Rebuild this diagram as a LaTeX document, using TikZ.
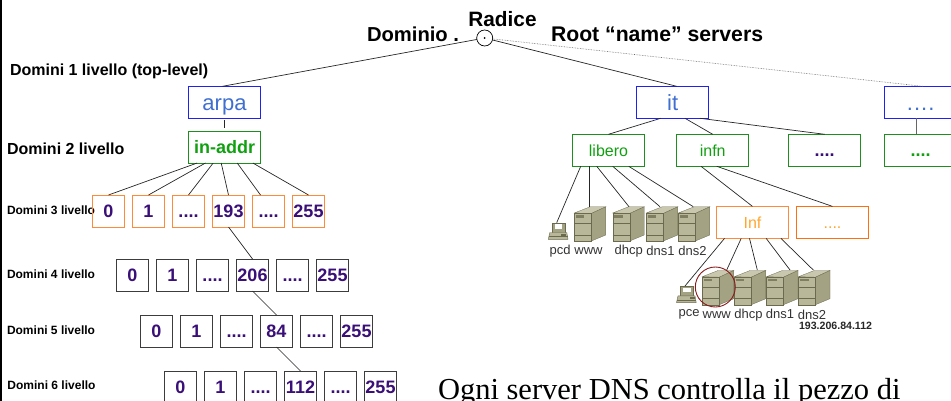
\documentclass[tikz,border=0pt]{standalone}
\usepackage{fontspec}
\setmainfont{Liberation Sans}
\newfontfamily\serifbody{Liberation Serif}
\usetikzlibrary{calc}
\definecolor{bluebd}{HTML}{2020F0}
\definecolor{bluetx}{HTML}{3F6FD0}
\definecolor{greenbd}{HTML}{1E8F1E}
\definecolor{greentx}{HTML}{10A010}
\definecolor{orangebd}{HTML}{FF8A3A}
\definecolor{orangebe}{HTML}{FF6F10}
\definecolor{orangetx}{HTML}{FFA62E}
\definecolor{purpletx}{HTML}{3A0F78}
\definecolor{greybd}{HTML}{3C3C3C}
\definecolor{srvfront}{HTML}{B8B79A}
\definecolor{srvside}{HTML}{A3A283}
\definecolor{srvtop}{HTML}{C9C8AE}
\definecolor{srvdark}{HTML}{6B6A4E}
\definecolor{srvslot}{HTML}{7F7E60}
\definecolor{ringred}{HTML}{8B1A1A}
\newcommand{\fsz}[1]{\fontsize{#1}{#1}\selectfont}
\newcommand{\fourdots}{.{}.{}.{}.}
\tikzset{
  x=1pt,y=-1pt,
  base box/.style={draw,line width=0.8pt,inner sep=0,outer sep=0,minimum height=32pt,text depth=0pt},
  bluebox/.style={base box,draw=bluebd,text=bluetx,minimum width=72pt,font=\fsz{22},text height=16pt},
  greenbox/.style={base box,draw=greenbd,text=greentx,minimum width=72pt,font=\fsz{16},text height=11.6pt},
  greenbold/.style={greenbox,font=\bfseries\fsz{18},text height=13pt},
  orangebox/.style={base box,draw=orangebe,text=orangetx,minimum width=72pt,font=\fsz{16},text height=11.6pt},
  numorange/.style={base box,draw=orangebd,text=purpletx,minimum width=32pt,font=\bfseries\fsz{18},text height=13pt},
  numgrey/.style={numorange,draw=greybd},
  levellabel/.style={anchor=west,inner sep=0,outer sep=0,font=\bfseries\fsz{12}},
  biglevel/.style={levellabel,font=\bfseries\fsz{16}},
  headlabel/.style={inner sep=0,outer sep=0,font=\bfseries\fsz{20.8}},
  hostlabel/.style={inner sep=0,outer sep=0,text=black!80,font=\fsz{13}},
  conn/.style={line width=0.7pt,black!85},
  pics/srv/.style={code={
    \fill[srvtop,draw=srvdark,line width=0.3pt] (0,0)--(17,0.5)--(31.5,-6.2)--(15.8,-6.2)--cycle;
    \fill[srvside,draw=srvdark,line width=0.3pt] (17,0.5)--(31.5,-6.2)--(31.5,22)--(17,28)--cycle;
    \fill[srvfront,draw=srvdark,line width=0.3pt] (0,0) rectangle (17,28);
    \fill[srvslot] (1.3,2) rectangle (10,4.6);
    \draw[srvdark,line width=0.6pt] (0,10.5)--(17,10.5);
    \draw[srvdark,line width=0.6pt] (0,22)--(17,22);
  }},
  pics/pc/.style={code={
    \fill[srvside,draw=srvdark,line width=0.4pt] (3.4,0) rectangle (16.7,10);
    \fill[white] (6.5,1.6) rectangle (14,6.2);
    \fill[srvfront,draw=srvdark,line width=0.4pt] (1.5,9.8)--(18.5,9.8)--(19.7,16.6)--(0,16.6)--cycle;
    \draw[srvdark,line width=0.8pt] (0.5,14)--(19.2,14);
    \fill[srvdark] (13,11) rectangle (18,13);
  }},
}
\begin{document}
\begin{tikzpicture}
\useasboundingbox (0,0) rectangle (951,401);
\clip (0,0) rectangle (951,401);
\fill[black] (0,0) rectangle (2.2,401);

% root
\node[circle,draw=black,line width=0.7pt,fill=white,minimum size=16pt,inner sep=0,outer sep=0] (root) at (484.7,38) {};
\fill[black] (root.center) circle (1pt);
\node[headlabel] (radice) at (502.5,19.5) {Radice};
\node[headlabel,anchor=west,font=\bfseries\fsz{20.2}] (dominio) at (367,34.5) {Dominio .};
\node[headlabel,anchor=west,font=\bfseries\fsz{21.2}] (rootsrv) at (551,34) {Root “name” servers};

% level labels
\node[biglevel] (l1) at (10,71) {Domini 1 livello (top-level)};
\node[biglevel] (l2) at (7,148.5) {Domini 2 livello};
\node[levellabel] (l3) at (7,210) {Domini 3 livello};
\node[levellabel] (l4) at (7,274) {Domini 4 livello};
\node[levellabel] (l5) at (7,330) {Domini 5 livello};
\node[levellabel] (l6) at (7.5,385) {Domini 6 livello};

% left tree
\node[bluebox] (arpa) at (224.5,102.3) {arpa};
\node[greenbold] (inaddr) at (224.5,147) {in-addr};

\foreach \n/\t/\x in {0/0/108.5,1/1/148.5,2/\fourdots/188.5,3/193/228.5,4/\fourdots/268.5,5/255/308.5}
  \node[numorange] (a\n) at (\x,211) {\t};
\foreach \n/\t/\x in {0/0/132.5,1/1/172.5,2/\fourdots/212.5,3/206/252.5,4/\fourdots/292.5,5/255/332.5}
  \node[numgrey] (b\n) at (\x,275) {\t};
\foreach \n/\t/\x in {0/0/156.5,1/1/196.5,2/\fourdots/236.5,3/84/276.5,4/\fourdots/316.5,5/255/356.5}
  \node[numgrey] (c\n) at (\x,331) {\t};
\foreach \n/\t/\x in {0/0/180.5,1/1/220.5,2/\fourdots/260.5,3/112/300.5,4/\fourdots/340.5,5/255/380.5}
  \node[numgrey] (d\n) at (\x,387) {\t};

% right tree
\node[bluebox] (it) at (672.7,102.3) {it};
\node[bluebox] (dots1) at (920.7,102.3) {.\kern1pt.\kern1pt.\kern1pt.};
\node[greenbox] (libero) at (608.5,150.3) {libero};
\node[greenbox] (infn) at (712.7,150.3) {infn};
\node[greenbox,text=purpletx,font=\bfseries\fsz{18},text height=13pt] (dots2) at (824.7,150.3) {\fourdots};
\node[greenbold] (dots3) at (920.7,150.3) {\fourdots};
\node[orangebox,draw=orangebd] (inf) at (752.5,222.4) {Inf};
\node[orangebox] (dots4) at (832.5,222.4) {\fourdots};

% servers
\pic at (574.3,213) {srv};
\coordinate (swww) at (589,206.7);
\pic at (612.7,213) {srv};
\coordinate (sdhcp) at (629,206.7);
\pic at (646.3,213) {srv};
\coordinate (sdns1) at (660,206.7);
\pic at (678.3,213) {srv};
\coordinate (sdns2) at (693.3,206.7);
\pic at (548.3,222.7) {pc};
\coordinate (spc) at (556.7,222.7);

\pic at (702.3,276.7) {srv};
\coordinate (twww) at (726.7,270);
\pic at (734.3,276.7) {srv};
\coordinate (tdhcp) at (757.3,270);
\pic at (766.5,276.7) {srv};
\coordinate (tdns1) at (790,270);
\pic at (798.5,276.7) {srv};
\coordinate (tdns2) at (813.3,270);
\pic at (676.5,286) {pc};
\coordinate (tpc) at (685,286);

\node[circle,draw=ringred,line width=0.9pt,minimum size=40pt,inner sep=0,outer sep=0] (ring) at (715.3,287) {};

% host labels
\node[hostlabel] (h1) at (560,251) {pcd};
\node[hostlabel] (h2) at (588.5,251) {www};
\node[hostlabel] (h3) at (628.7,251) {dhcp};
\node[hostlabel] (h4) at (660.5,251) {dns1};
\node[hostlabel] (h5) at (692.5,251) {dns2};
\node[hostlabel] (h6) at (689,314) {pce};
\node[hostlabel] (h7) at (716.7,315) {www};
\node[hostlabel] (h8) at (748.5,315) {dhcp};
\node[hostlabel] (h9) at (780,314) {dns1};
\node[hostlabel] (h10) at (812,315) {dns2};
\node[anchor=west,inner sep=0,outer sep=0,font=\bfseries\fsz{10.6},text=black!85] (ip) at (799,326) {193.206.84.112};

% body text
\node[anchor=base west,inner sep=0,outer sep=0,font=\serifbody\fsz{30.5}] (body) at (438,399.5) {Ogni server DNS controlla il pezzo di};

% connectors
\draw[conn] (root) -- ([xshift=34pt]arpa.north west);
\draw[conn] (root) -- ([xshift=40pt]it.north west);
\draw[line width=0.6pt,black!60,densely dotted] (root) -- ([xshift=38pt]dots1.north west);
\draw[conn,shorten <=2pt,shorten >=2.5pt] (arpa.south) -- (inaddr.north);
\draw[conn] ([xshift=8.7pt]inaddr.south west) -- (a0.north);
\draw[conn] ([xshift=17pt]inaddr.south west) -- (a1.north);
\draw[conn] ([xshift=24.7pt]inaddr.south west) -- (a2.north);
\draw[conn] ([xshift=32.7pt]inaddr.south west) -- (a3.north);
\draw[conn] ([xshift=48.7pt]inaddr.south west) -- ([xshift=-8pt]a4.north);
\draw[conn] ([xshift=64.3pt]inaddr.south west) -- (a5.north);
\draw[conn] (a3.south) -- (b3.north);
\draw[conn] (b3.south) -- (c3.north);
\draw[conn] (c3.south) -- (d3.north);
\draw[conn] ([xshift=24pt]it.south west) -- (libero.north);
\draw[conn] ([xshift=48.3pt]it.south west) -- (infn.north);
\draw[conn] ([xshift=63.3pt]it.south west) -- (dots2.north);
\draw[line width=1pt,black!60] ([xshift=32pt]dots1.south west) -- ([xshift=32pt]dots3.north west);
\draw[conn] ([xshift=8.2pt]libero.south west) -- (spc);
\draw[conn] ([xshift=16.5pt]libero.south west) -- (swww);
\draw[conn] ([xshift=24.2pt]libero.south west) -- (sdhcp);
\draw[conn] ([xshift=40.2pt]libero.south west) -- (sdns1);
\draw[conn] ([xshift=56.2pt]libero.south west) -- (sdns2);
\draw[conn] ([xshift=24.3pt]infn.south west) -- (inf.north);
\draw[conn] ([xshift=40pt]infn.south west) -- (dots4.north);
\draw[conn] ([xshift=8pt]inf.south west) -- (tpc);
\draw[conn] ([xshift=24.7pt]inf.south west) -- (twww);
\draw[conn] ([xshift=33pt]inf.south west) -- (tdhcp);
\draw[conn] ([xshift=49.7pt]inf.south west) -- (tdns1);
\draw[conn] ([xshift=64.4pt]inf.south west) -- (tdns2);
\end{tikzpicture}
\end{document}
